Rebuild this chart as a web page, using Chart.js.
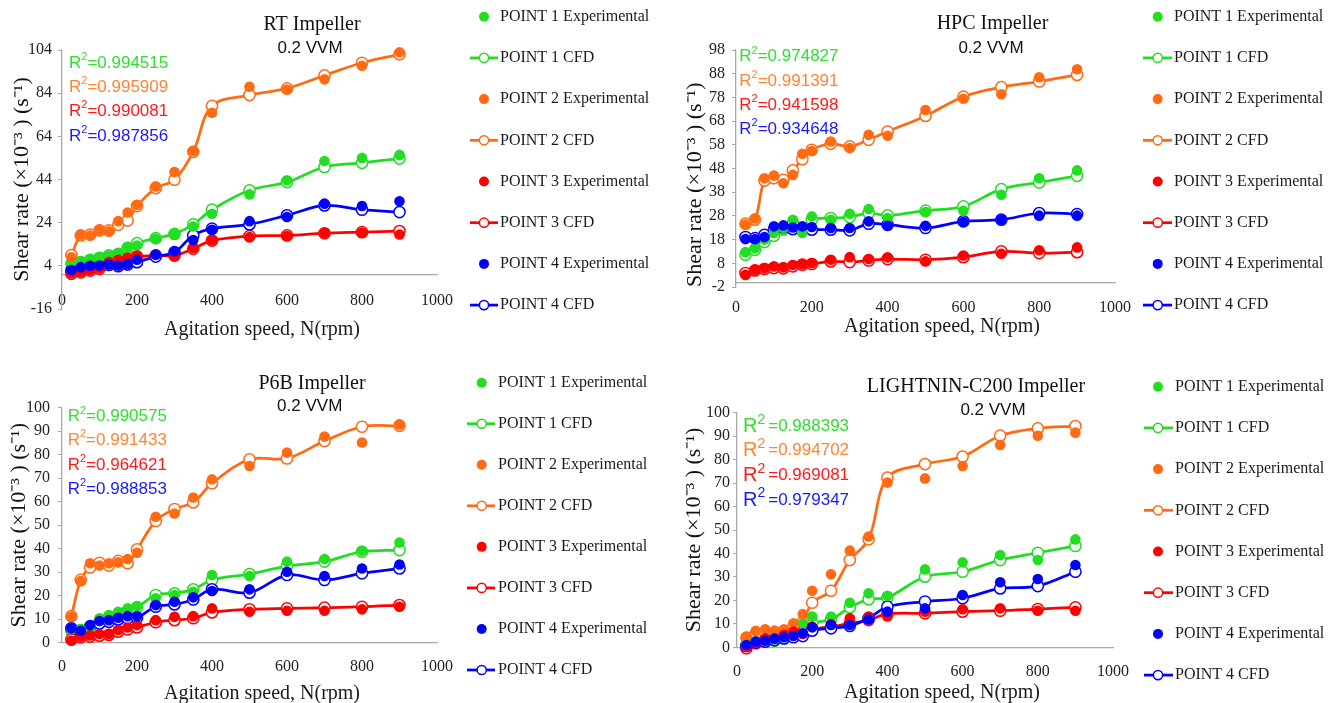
<!DOCTYPE html>
<html>
<head>
<meta charset="utf-8">
<script src="https://cdn.jsdelivr.net/npm/chart.js@4.4.1/dist/chart.umd.min.js"></script>
<style>
html,body{margin:0;padding:0;background:#fff;}
#wrap{position:relative;width:1338px;height:703px;overflow:hidden;background:#fff;}
canvas{position:absolute;}
</style>
</head>
<body>
<div id="wrap">
<canvas id="c0" width="669" height="351" style="left:0;top:0;width:669px;height:351px"></canvas>
<canvas id="c1" width="669" height="351" style="left:669px;top:0;width:669px;height:351px"></canvas>
<canvas id="c2" width="669" height="352" style="left:0;top:351px;width:669px;height:352px"></canvas>
<canvas id="c3" width="669" height="352" style="left:669px;top:351px;width:669px;height:352px"></canvas>
</div>
<script>
// ---------------- DATA ----------------
const rpm = [25, 50, 75, 100, 125, 150, 175, 200, 250, 300, 350, 400, 500, 600, 700, 800, 900];
const seriesNames = ['POINT 1 Experimental', 'POINT 1 CFD', 'POINT 2 Experimental', 'POINT 2 CFD',
                     'POINT 3 Experimental', 'POINT 3 CFD', 'POINT 4 Experimental', 'POINT 4 CFD'];
const impellerTitles = ['RT Impeller', 'HPC Impeller', 'P6B Impeller', 'LIGHTNIN-C200 Impeller'];
const aerationLabel = '0.2 VVM';
const xAxisTitle = 'Agitation speed, N(rpm)';
const yAxisTitle = 'Shear rate (\u00d710\u207b\u00b3 ) (s\u207b\u00b9)';
const xTicks = [0, 200, 400, 600, 800, 1000];
const rtYTicks = [-16, 4, 24, 44, 64, 84, 104];
const hpcYTicks = [-2, 8, 18, 28, 38, 48, 58, 68, 78, 88, 98];
const p6bYTicks = [0, 10, 20, 30, 40, 50, 60, 70, 80, 90, 100];
const lcYTicks = [0, 10, 20, 30, 40, 50, 60, 70, 80, 90, 100];

// RT impeller
const rtP1Exp = [5.5, 6.1, 6.8, 8.0, 8.8, 9.9, 12.6, 13.4, 16.5, 18.8, 22.2, 28.1, 37.1, 43.6, 52.6, 54.0, 55.4];
const rtP1Cfd = [5.0, 5.7, 6.8, 7.7, 8.8, 9.5, 12.3, 14.5, 16.8, 18.8, 23.2, 30.0, 39.0, 42.8, 49.8, 51.7, 53.7];
const rtP2Exp = [8.0, 18.4, 18.0, 20.7, 20.0, 24.7, 28.7, 32.3, 40.8, 47.5, 57.2, 74.9, 87.0, 85.7, 90.4, 96.7, 102.9];
const rtP2Cfd = [9.0, 18.1, 18.5, 20.4, 20.4, 23.0, 25.0, 31.7, 40.0, 43.9, 56.8, 78.1, 83.1, 86.2, 92.2, 98.1, 102.0];
const rtP3Exp = [0.6, 1.3, 2.1, 2.9, 5.7, 6.8, 7.7, 8.8, 9.1, 8.3, 12.3, 16.0, 17.3, 17.8, 19.3, 19.3, 18.5];
const rtP3Cfd = [0.3, 1.0, 1.8, 2.6, 4.9, 6.4, 7.2, 8.3, 8.8, 8.8, 11.9, 15.7, 17.8, 18.1, 19.1, 19.6, 20.1];
const rtP4Exp = [2.1, 3.4, 4.0, 4.1, 4.6, 4.1, 4.9, 6.8, 9.2, 10.8, 16.0, 20.7, 24.7, 26.6, 32.8, 31.7, 33.9];
const rtP4Cfd = [1.8, 2.9, 3.7, 3.8, 4.4, 3.8, 4.6, 5.7, 8.3, 10.3, 18.1, 21.2, 23.2, 27.4, 32.0, 30.0, 28.9];
const rtR2 = ['0.994515', '0.995909', '0.990081', '0.987856'];

// HPC impeller
const hpcP1Exp = [12.7, 14.4, 18.0, 20.8, 22.9, 26.4, 20.8, 27.8, 26.4, 28.9, 30.9, 27.1, 29.6, 30.2, 36.9, 43.9, 47.2];
const hpcP1Cfd = [11.6, 13.7, 17.0, 19.6, 22.2, 25.0, 22.9, 26.4, 27.1, 27.5, 29.2, 28.2, 30.2, 32.0, 39.3, 42.1, 44.9];
const hpcP2Exp = [24.3, 26.9, 43.9, 45.0, 41.8, 45.3, 54.2, 55.4, 59.4, 56.6, 62.2, 61.8, 72.7, 77.4, 79.3, 86.5, 89.9];
const hpcP2Cfd = [24.7, 26.4, 42.9, 43.9, 43.2, 47.2, 51.9, 55.9, 58.4, 57.3, 60.1, 63.6, 70.2, 78.3, 82.3, 84.7, 87.5];
const hpcP3Exp = [3.1, 5.3, 6.0, 6.7, 6.3, 7.3, 7.7, 8.1, 9.5, 10.6, 9.8, 10.5, 8.8, 11.3, 12.0, 13.5, 14.7];
const hpcP3Cfd = [3.9, 5.0, 5.6, 6.0, 5.9, 6.7, 7.4, 7.7, 8.8, 8.5, 9.2, 9.8, 9.5, 10.6, 13.0, 12.3, 12.7];
const hpcP4Exp = [18.2, 18.2, 19.1, 23.6, 24.0, 23.1, 23.6, 23.3, 22.9, 22.9, 25.7, 23.8, 23.8, 25.4, 26.4, 28.1, 28.1];
const hpcP4Cfd = [19.1, 18.6, 20.0, 22.2, 23.1, 22.4, 22.2, 22.2, 22.2, 21.9, 24.7, 24.3, 22.9, 25.7, 26.4, 29.2, 28.8];
const hpcR2 = ['0.974827', '0.991391', '0.941598', '0.934648'];

// P6B impeller
const p6bP1Exp = [5.7, 5.7, 6.1, 10.4, 11.8, 13.2, 14.6, 15.6, 18.9, 20.3, 21.7, 28.8, 28.4, 34.5, 35.6, 39.1, 42.6];
const p6bP1Cfd = [5.1, 5.4, 6.8, 8.9, 10.8, 12.2, 13.6, 15.0, 20.3, 21.0, 22.7, 26.7, 29.2, 32.6, 34.5, 38.7, 39.4];
const p6bP2Exp = [11.1, 26.2, 33.8, 32.8, 33.8, 34.2, 35.6, 38.3, 53.6, 55.0, 61.8, 69.5, 75.2, 80.9, 87.7, 85.2, 92.9];
const p6bP2Cfd = [11.3, 26.7, 32.0, 34.0, 32.8, 34.8, 33.8, 39.7, 51.8, 56.9, 59.7, 67.8, 78.0, 78.4, 85.8, 91.9, 92.3];
const p6bP3Exp = [0.9, 2.6, 3.1, 3.7, 3.7, 5.4, 6.5, 7.5, 9.6, 11.0, 11.3, 14.6, 13.2, 13.6, 13.6, 14.2, 15.3];
const p6bP3Cfd = [1.4, 2.3, 2.6, 3.0, 3.3, 4.7, 5.7, 6.5, 8.7, 9.6, 10.4, 12.9, 14.2, 14.6, 14.9, 15.3, 16.0];
const p6bP4Exp = [6.1, 5.1, 7.5, 9.2, 9.6, 10.6, 11.3, 11.3, 16.0, 17.4, 19.3, 22.0, 22.7, 30.2, 28.4, 31.6, 33.3];
const p6bP4Cfd = [6.1, 4.7, 6.8, 8.2, 8.9, 9.9, 10.4, 10.6, 15.3, 16.3, 18.4, 22.7, 21.3, 28.8, 26.7, 29.5, 31.6];
const p6bR2 = ['0.990575', '0.991433', '0.964621', '0.988853'];

// LIGHTNIN-C200 impeller
const lcP1Exp = [1.7, 2.7, 3.1, 3.4, 4.5, 7.1, 10.2, 13.1, 13.1, 19.0, 23.0, 22.0, 33.2, 36.2, 39.3, 37.2, 46.0];
const lcP1Cfd = [1.0, 2.0, 2.4, 2.8, 3.8, 5.3, 6.7, 10.2, 11.9, 17.0, 20.5, 21.2, 30.1, 32.2, 37.2, 40.3, 43.2];
const lcP2Exp = [4.5, 7.0, 7.7, 7.1, 7.7, 10.2, 14.2, 24.1, 31.1, 41.2, 47.2, 70.2, 72.0, 77.3, 86.2, 90.2, 91.5];
const lcP2Cfd = [4.1, 6.0, 6.3, 6.3, 7.0, 8.8, 10.9, 19.0, 24.1, 37.2, 46.0, 72.3, 78.1, 81.3, 90.2, 93.3, 94.3];
const lcP3Exp = [0.3, 2.0, 3.8, 3.8, 5.3, 6.7, 5.7, 8.8, 9.9, 12.4, 13.1, 13.1, 15.2, 16.2, 16.6, 15.6, 15.6];
const lcP3Cfd = [-0.4, 1.7, 3.1, 3.4, 4.3, 5.3, 6.3, 7.7, 8.8, 10.2, 11.6, 14.2, 14.5, 15.2, 15.6, 16.3, 17.0];
const lcP4Exp = [1.0, 2.4, 2.8, 3.6, 4.3, 4.8, 6.0, 8.5, 9.5, 9.5, 11.9, 15.2, 16.6, 22.3, 27.7, 29.1, 35.1];
const lcP4Cfd = [0.6, 2.0, 2.4, 3.1, 3.8, 4.3, 4.8, 7.1, 8.1, 9.1, 12.4, 17.3, 19.5, 20.9, 25.1, 26.1, 32.2];
const lcR2 = ['0.988393', '0.994702', '0.969081', '0.979347'];

// ---------------- STYLE ----------------
const seriesColors = ['#22dd22', '#ff6a13', '#ff0000', '#0000ff'];
const r2Colors = ['#2fe02f', '#ff8433', '#ff1a1a', '#1a1aff'];
const axisColor = '#a8a8a8';
const SERIF = '"Liberation Serif", "Times New Roman", serif';
const SANS = '"Liberation Sans", Arial, sans-serif';

function makeSets(groups) {
  const sets = [];
  groups.forEach((g, i) => {
    const c = seriesColors[i];
    sets.push({
      label: seriesNames[2 * i],
      data: rpm.map((x, k) => ({x: x, y: g[0][k]})),
      showLine: false, borderColor: c, backgroundColor: c,
      pointRadius: 5.3, pointBackgroundColor: c, pointBorderColor: c, pointBorderWidth: 0,
      clip: false, order: 100 - (4 + i)
    });
    sets.push({
      label: seriesNames[2 * i + 1],
      data: rpm.map((x, k) => ({x: x, y: g[1][k]})),
      showLine: true, borderColor: c, backgroundColor: c, borderWidth: 2.75, tension: 0.35,
      pointRadius: 5.6, pointBackgroundColor: '#ffffff', pointBorderColor: c, pointBorderWidth: 1.5,
      clip: false, order: 100 - i
    });
  });
  return sets;
}

const notesPlugin = {
  id: 'notes',
  afterDraw(chart, args, o) {
    const ctx = chart.ctx;
    ctx.save();
    ctx.fillStyle = '#111';
    ctx.textAlign = 'center';
    ctx.textBaseline = 'middle';
    ctx.font = '20px ' + SERIF;
    ctx.fillText(o.title, o.titleX, o.titleY);
    ctx.font = '17px ' + SANS;
    ctx.fillText(aerationLabel, o.subX, o.subY);
    ctx.font = '20px ' + SERIF;
    ctx.fillStyle = '#1a1a1a';
    ctx.fillText(xAxisTitle, o.xtX, o.xtY);
    ctx.textAlign = 'left';
    o.r2.forEach((v, i) => {
      let x = o.r2X;
      const y = o.r2Y[i];
      ctx.fillStyle = r2Colors[i];
      ctx.font = o.rSize + 'px ' + SANS;
      ctx.fillText('R', x, y);
      x += ctx.measureText('R').width;
      ctx.font = o.supSize + 'px ' + SANS;
      ctx.fillText('2', x, y - o.supRise);
      x += ctx.measureText('2').width + o.gap;
      ctx.font = o.valSize + 'px ' + SANS;
      ctx.fillText('=' + v, x, y);
    });
    ctx.restore();
  }
};

const keyPlugin = {
  id: 'seriesKey',
  afterDraw(chart, args, o) {
    const ctx = chart.ctx;
    ctx.save();
    ctx.font = '16px ' + SERIF;
    ctx.textBaseline = 'middle';
    ctx.textAlign = 'left';
    chart.data.datasets.forEach((ds, i) => {
      const y = o.y0 + i * o.dy;
      const c = ds.borderColor;
      if (ds.showLine) {
        ctx.strokeStyle = c;
        ctx.lineWidth = 2.75;
        ctx.beginPath(); ctx.moveTo(o.lineX1, y); ctx.lineTo(o.lineX2, y); ctx.stroke();
        ctx.beginPath(); ctx.arc(o.dotX, y, 4.6, 0, 2 * Math.PI);
        ctx.fillStyle = '#fff'; ctx.fill();
        ctx.lineWidth = 1.5; ctx.stroke();
      } else {
        ctx.beginPath(); ctx.arc(o.dotX, y, 5, 0, 2 * Math.PI);
        ctx.fillStyle = c; ctx.fill();
      }
      ctx.fillStyle = '#1a1a1a';
      ctx.fillText(ds.label, o.textX, y);
    });
    ctx.restore();
  }
};

const panels = [
  { id: 'c0', groups: [[rtP1Exp, rtP1Cfd], [rtP2Exp, rtP2Cfd], [rtP3Exp, rtP3Cfd], [rtP4Exp, rtP4Cfd]],
    yTicks: rtYTicks, r2: rtR2, title: impellerTitles[0],
    pad: {left: 0, top: 50, right: 232, bottom: 42}, yW: 62, yPad: 6, ytPad: 9.4, ytAlign: 'center', xPad: 8.4,
    notes: {titleX: 312, titleY: 25, subX: 310, subY: 48, xtX: 262, xtY: 330, r2X: 69, r2Y: [63, 87, 111, 136],
            rSize: 17, supSize: 11, supRise: 6, gap: 0, valSize: 17},
    key: {dotX: 484, lineX1: 470, lineX2: 498, textX: 500, y0: 16.7, dy: 41.2} },
  { id: 'c1', groups: [[hpcP1Exp, hpcP1Cfd], [hpcP2Exp, hpcP2Cfd], [hpcP3Exp, hpcP3Cfd], [hpcP4Exp, hpcP4Cfd]],
    yTicks: hpcYTicks, r2: hpcR2, title: impellerTitles[1],
    pad: {left: 0, top: 50, right: 223, bottom: 64}, yW: 67, yPad: 7, ytPad: 13.4, ytAlign: 'start', xPad: 8,
    notes: {titleX: 323.5, titleY: 24, subX: 322, subY: 48, xtX: 273, xtY: 327, r2X: 70.3, r2Y: [56.7, 81, 105, 129.3],
            rSize: 17, supSize: 11, supRise: 6, gap: 0, valSize: 17},
    key: {dotX: 488.7, lineX1: 474, lineX2: 503, textX: 505, y0: 16.7, dy: 41.2} },
  { id: 'c2', groups: [[p6bP1Exp, p6bP1Cfd], [p6bP2Exp, p6bP2Cfd], [p6bP3Exp, p6bP3Cfd], [p6bP4Exp, p6bP4Cfd]],
    yTicks: p6bYTicks, r2: p6bR2, title: impellerTitles[2],
    pad: {left: 0, top: 56.7, right: 232, bottom: 60.3}, yW: 62, yPad: 8, ytPad: 6.4, ytAlign: 'center', xPad: 6.7,
    notes: {titleX: 312, titleY: 32.3, subX: 309.7, subY: 55.7, xtX: 262, xtY: 342.3, r2X: 67.7, r2Y: [65.7, 89, 114, 138],
            rSize: 17, supSize: 11, supRise: 6, gap: 0, valSize: 17},
    key: {dotX: 481.7, lineX1: 467, lineX2: 495, textX: 498, y0: 31.7, dy: 41.04} },
  { id: 'c3', groups: [[lcP1Exp, lcP1Cfd], [lcP2Exp, lcP2Cfd], [lcP3Exp, lcP3Cfd], [lcP4Exp, lcP4Cfd]],
    yTicks: lcYTicks, r2: lcR2, title: impellerTitles[3],
    pad: {left: 0, top: 61.7, right: 225, bottom: 55.7}, yW: 68, yPad: 3, ytPad: 12.4, ytAlign: 'center', xPad: 7,
    notes: {titleX: 307, titleY: 35.7, subX: 324, subY: 59.7, xtX: 273, xtY: 341.3, r2X: 74, r2Y: [75.7, 99.7, 124.7, 149],
            rSize: 20, supSize: 14, supRise: 7, gap: 3, valSize: 17},
    key: {dotX: 489, lineX1: 475, lineX2: 504, textX: 506, y0: 35.7, dy: 41.2} }
];

panels.forEach(p => {
  const yT = p.yTicks;
  new Chart(document.getElementById(p.id), {
    type: 'scatter',
    data: { datasets: makeSets(p.groups) },
    plugins: [notesPlugin, keyPlugin],
    options: {
      responsive: false,
      animation: false,
      devicePixelRatio: 1,
      events: [],
      layout: { padding: p.pad },
      scales: {
        x: {
          type: 'linear', position: {y: 0}, min: 0, max: 1000,
          afterBuildTicks: s => { s.ticks = xTicks.map(v => ({value: v})); },
          ticks: { font: {family: SERIF, size: 16}, color: '#222', padding: p.xPad, maxRotation: 0, autoSkip: false,
                   callback: v => String(v) },
          grid: { display: false },
          border: { display: true, color: axisColor, width: 1.3 }
        },
        y: {
          type: 'linear', min: yT[0], max: yT[yT.length - 1],
          afterBuildTicks: s => { s.ticks = yT.map(v => ({value: v})); },
          afterFit: s => { s.width = p.yW; },
          ticks: { font: {family: SERIF, size: 16}, color: '#222', padding: p.yPad, autoSkip: false,
                   callback: v => String(v) },
          grid: { display: true, drawOnChartArea: false, drawTicks: true, tickLength: 4, color: axisColor },
          border: { display: true, color: axisColor, width: 1.3 },
          title: { display: true, text: yAxisTitle, color: '#111', align: p.ytAlign,
                   font: {family: SERIF, size: 22}, padding: {top: p.ytPad, bottom: 0} }
        }
      },
      plugins: {
        legend: { display: false },
        tooltip: { enabled: false },
        notes: Object.assign({ title: p.title, r2: p.r2 }, p.notes),
        seriesKey: p.key
      }
    }
  });
});
</script>
</body>
</html>
